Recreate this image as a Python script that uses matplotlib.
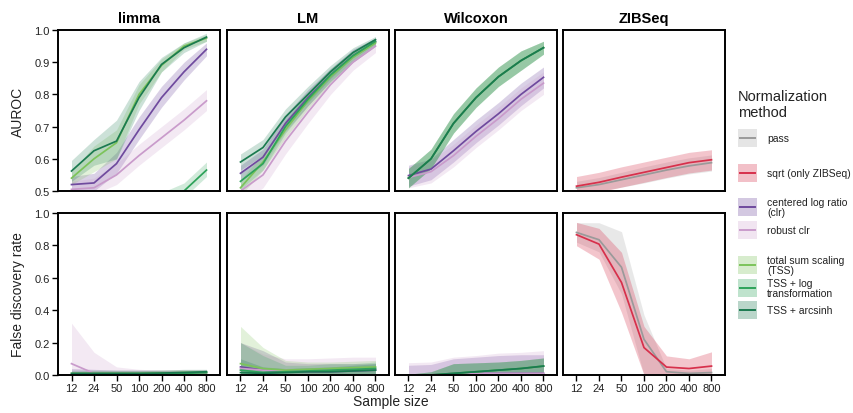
import matplotlib
matplotlib.use("Agg")
import matplotlib.pyplot as plt
from matplotlib.patches import Rectangle
from matplotlib.lines import Line2D
import numpy as np

plt.rcParams['font.family'] = ['Liberation Sans', 'DejaVu Sans']

sample_sizes = ["12", "24", "50", "100", "200", "400", "800"]
tests = ["limma", "LM", "Wilcoxon", "ZIBSeq"]
methods = ["pass", "sqrt (only ZIBSeq)", "centered log ratio\n(clr)", "robust clr",
           "total sum scaling\n(TSS)", "TSS + log\ntransformation", "TSS + arcsinh"]
colors = ["#9a9a9a", "#d7304b", "#6f4a9e", "#c99bcb", "#7cc35a", "#2ea35a", "#1b7a50"]
band_alpha = [0.22, 0.28, 0.25, 0.22, 0.22, 0.22, 0.22]
legend_alpha = [0.25, 0.3, 0.3, 0.25, 0.3, 0.3, 0.3]

# AUROC: method index -> (mean, lower, upper)
auroc_limma = {
    4: ([0.54, 0.60, 0.65, 0.80, 0.89, 0.95, 0.975],
        [0.52, 0.56, 0.60, 0.77, 0.87, 0.94, 0.965],
        [0.56, 0.64, 0.69, 0.83, 0.91, 0.96, 0.985]),
    5: ([0.40, 0.41, 0.42, 0.44, 0.47, 0.50, 0.565],
        [0.38, 0.39, 0.40, 0.42, 0.45, 0.48, 0.545],
        [0.42, 0.43, 0.44, 0.465, 0.495, 0.525, 0.59]),
    6: ([0.562, 0.625, 0.655, 0.79, 0.893, 0.945, 0.978],
        [0.53, 0.58, 0.60, 0.75, 0.87, 0.93, 0.965],
        [0.595, 0.66, 0.72, 0.84, 0.915, 0.96, 0.99]),
    2: ([0.52, 0.525, 0.585, 0.69, 0.79, 0.87, 0.94],
        [0.50, 0.50, 0.555, 0.66, 0.76, 0.845, 0.92],
        [0.545, 0.555, 0.62, 0.73, 0.825, 0.90, 0.96]),
    3: ([0.505, 0.51, 0.55, 0.61, 0.665, 0.72, 0.78],
        [0.48, 0.49, 0.52, 0.58, 0.635, 0.69, 0.75],
        [0.53, 0.54, 0.585, 0.645, 0.70, 0.755, 0.815]),
}
auroc_lm = {
    2: ([0.555, 0.605, 0.71, 0.79, 0.86, 0.92, 0.963],
        [0.53, 0.58, 0.685, 0.765, 0.84, 0.90, 0.95],
        [0.58, 0.63, 0.735, 0.815, 0.88, 0.94, 0.975]),
    3: ([0.50, 0.55, 0.655, 0.745, 0.83, 0.90, 0.95],
        [0.46, 0.51, 0.615, 0.71, 0.80, 0.875, 0.93],
        [0.53, 0.58, 0.685, 0.775, 0.855, 0.92, 0.965]),
    4: ([0.51, 0.59, 0.69, 0.78, 0.855, 0.915, 0.96],
        [0.485, 0.565, 0.665, 0.755, 0.835, 0.90, 0.95],
        [0.535, 0.615, 0.715, 0.805, 0.875, 0.93, 0.97]),
    5: ([0.53, 0.585, 0.70, 0.785, 0.86, 0.92, 0.965],
        [0.505, 0.565, 0.68, 0.765, 0.84, 0.905, 0.955],
        [0.555, 0.605, 0.72, 0.805, 0.88, 0.935, 0.975]),
    6: ([0.59, 0.635, 0.73, 0.80, 0.87, 0.93, 0.97],
        [0.565, 0.61, 0.705, 0.775, 0.85, 0.915, 0.96],
        [0.615, 0.66, 0.755, 0.825, 0.89, 0.945, 0.98]),
}
wil_green = ([0.54, 0.60, 0.71, 0.79, 0.855, 0.905, 0.945],
             [0.51, 0.57, 0.68, 0.76, 0.825, 0.875, 0.925],
             [0.57, 0.63, 0.74, 0.82, 0.885, 0.935, 0.965])
auroc_wilcoxon = {
    2: ([0.548, 0.568, 0.625, 0.685, 0.74, 0.80, 0.853],
        [0.515, 0.535, 0.59, 0.65, 0.705, 0.765, 0.82],
        [0.58, 0.60, 0.66, 0.72, 0.775, 0.835, 0.885]),
    3: ([0.542, 0.56, 0.61, 0.67, 0.725, 0.785, 0.835],
        [0.51, 0.525, 0.575, 0.635, 0.69, 0.75, 0.80],
        [0.575, 0.595, 0.645, 0.705, 0.76, 0.82, 0.87]),
    4: wil_green, 5: wil_green, 6: wil_green,
}
auroc_zibseq = {
    0: ([0.51, 0.52, 0.535, 0.55, 0.565, 0.578, 0.588],
        [0.49, 0.50, 0.512, 0.525, 0.54, 0.553, 0.562],
        [0.53, 0.542, 0.558, 0.575, 0.59, 0.603, 0.612]),
    1: ([0.515, 0.527, 0.543, 0.558, 0.573, 0.588, 0.597],
        [0.485, 0.497, 0.512, 0.527, 0.542, 0.556, 0.565],
        [0.545, 0.558, 0.575, 0.59, 0.605, 0.62, 0.628]),
}

# False discovery rate
fdr_limma = {
    2: ([0.005, 0.005, 0.005, 0.005, 0.005, 0.005, 0.005],
        [0, 0, 0, 0, 0, 0, 0],
        [0.04, 0.035, 0.03, 0.03, 0.03, 0.03, 0.03]),
    3: ([0.07, 0.01, 0.005, 0.005, 0.005, 0.005, 0.005],
        [0, 0, 0, 0, 0, 0, 0],
        [0.32, 0.14, 0.05, 0.035, 0.03, 0.03, 0.03]),
    4: ([0.01, 0.01, 0.01, 0.01, 0.012, 0.015, 0.015],
        [0, 0, 0, 0, 0, 0, 0],
        [0.02, 0.025, 0.025, 0.025, 0.03, 0.03, 0.03]),
    5: ([0.0, 0.0, 0.0, 0.002, 0.005, 0.01, 0.015],
        [0, 0, 0, 0, 0, 0, 0],
        [0.01, 0.01, 0.01, 0.015, 0.02, 0.025, 0.03]),
    6: ([0.01, 0.01, 0.01, 0.01, 0.012, 0.015, 0.02],
        [0, 0, 0, 0, 0, 0, 0],
        [0.03, 0.03, 0.03, 0.03, 0.03, 0.035, 0.035]),
}
fdr_lm = {
    2: ([0.05, 0.03, 0.02, 0.02, 0.02, 0.025, 0.03],
        [0, 0, 0, 0, 0, 0, 0],
        [0.2, 0.15, 0.08, 0.07, 0.07, 0.07, 0.07]),
    3: ([0.04, 0.03, 0.03, 0.03, 0.035, 0.04, 0.04],
        [0, 0, 0, 0, 0, 0, 0],
        [0.2, 0.13, 0.10, 0.10, 0.105, 0.11, 0.11]),
    4: ([0.07, 0.04, 0.03, 0.035, 0.04, 0.045, 0.05],
        [0, 0, 0, 0, 0, 0, 0],
        [0.30, 0.17, 0.09, 0.08, 0.08, 0.085, 0.09]),
    5: ([0.03, 0.015, 0.02, 0.025, 0.03, 0.035, 0.04],
        [0, 0, 0, 0, 0, 0, 0],
        [0.2, 0.12, 0.06, 0.06, 0.07, 0.07, 0.08]),
    6: ([0.015, 0.01, 0.015, 0.02, 0.02, 0.025, 0.03],
        [0, 0, 0, 0, 0, 0, 0],
        [0.10, 0.05, 0.04, 0.045, 0.05, 0.06, 0.07]),
}
wil_fdr_green = ([0.0, 0.0, 0.01, 0.02, 0.03, 0.04, 0.055],
                 [0, 0, 0, 0, 0, 0, 0],
                 [0.005, 0.02, 0.07, 0.075, 0.08, 0.09, 0.105])
fdr_wilcoxon = {
    2: ([0.0, 0.0, 0.01, 0.01, 0.01, 0.01, 0.01],
        [0, 0, 0, 0, 0, 0, 0],
        [0.06, 0.065, 0.10, 0.11, 0.12, 0.125, 0.125]),
    3: ([0.0, 0.0, 0.01, 0.01, 0.01, 0.01, 0.01],
        [0, 0, 0, 0, 0, 0, 0],
        [0.076, 0.08, 0.11, 0.12, 0.135, 0.14, 0.15]),
    4: wil_fdr_green, 5: wil_fdr_green, 6: wil_fdr_green,
}
fdr_zibseq = {
    0: ([0.88, 0.835, 0.665, 0.22, 0.02, 0.01, 0.015],
        [0.82, 0.76, 0.50, 0.0, 0.0, 0.0, 0.0],
        [0.94, 0.94, 0.885, 0.37, 0.04, 0.03, 0.04]),
    1: ([0.866, 0.808, 0.571, 0.169, 0.049, 0.04, 0.055],
        [0.798, 0.715, 0.386, 0.0, 0.0, 0.0, 0.0],
        [0.942, 0.905, 0.757, 0.30, 0.118, 0.10, 0.143]),
}

auroc_data = [auroc_limma, auroc_lm, auroc_wilcoxon, auroc_zibseq]
fdr_data = [fdr_limma, fdr_lm, fdr_wilcoxon, fdr_zibseq]

W, H = 854, 414
fig = plt.figure(figsize=(W / 100, H / 100), dpi=100)

col_left = [58, 227, 395, 563]
pw = 162
rows = [(31, 192), (214, 376)]

x = np.arange(len(sample_sizes))
tick_color = "#222222"

def draw(ax, data):
    for mi in sorted(data.keys()):
        m, lo, hi = data[mi]
        ax.fill_between(x, lo, hi, color=colors[mi], alpha=band_alpha[mi], lw=0)
        ax.plot(x, m, color=colors[mi], lw=1.25)

for c in range(4):
    for r in range(2):
        top, bot = rows[r]
        ax = fig.add_axes([col_left[c] / W, 1 - bot / H, pw / W, (bot - top) / H])
        draw(ax, auroc_data[c] if r == 0 else fdr_data[c])
        ax.set_xlim(-0.6, 6.6)
        if r == 0:
            ax.set_ylim(0.5, 1.0)
            ax.set_yticks([0.5, 0.6, 0.7, 0.8, 0.9, 1.0])
            ax.set_yticklabels(["0.5", "0.6", "0.7", "0.8", "0.9", "1.0"])
            ax.set_xticks([])
            ax.set_title(tests[c], fontsize=10.5, fontweight="bold", pad=6)
        else:
            ax.set_ylim(0, 1.0)
            ax.set_yticks([0, 0.2, 0.4, 0.6, 0.8, 1.0])
            ax.set_yticklabels(["0.0", "0.2", "0.4", "0.6", "0.8", "1.0"])
            ax.set_xticks(x)
            ax.set_xticklabels(sample_sizes)
        for s in ax.spines.values():
            s.set_linewidth(1.4)
            s.set_color("black")
        ax.tick_params(axis="both", direction="out", length=4, width=1.0,
                       labelsize=8, colors="black", labelcolor=tick_color, pad=2)
        if c != 0:
            ax.set_yticks([])
        else:
            ax.set_ylabel("AUROC" if r == 0 else "False discovery rate",
                          fontsize=10, color=tick_color, labelpad=7)

fig.text(391 / W, 1 - 402 / H, "Sample size", ha="center", va="center",
         fontsize=10, color=tick_color)

# Legend (manual)
fig.text(738 / W, 1 - 105 / H, "Normalization\nmethod", ha="left", va="center",
         fontsize=10.5, color=tick_color, linespacing=1.1)
entry_y = [139, 174, 208, 231, 266, 289, 311]
for i, yc in enumerate(entry_y):
    x0, x1 = 738, 757
    ph = 18
    fig.add_artist(Rectangle((x0 / W, 1 - (yc + ph / 2) / H), (x1 - x0) / W, ph / H,
                             transform=fig.transFigure, facecolor=colors[i],
                             alpha=legend_alpha[i], edgecolor="none"))
    fig.add_artist(Line2D([(x0 + 2) / W, (x1 - 2) / W], [1 - yc / H, 1 - yc / H],
                          transform=fig.transFigure, color=colors[i], lw=1.4))
    fig.text(767 / W, 1 - yc / H, methods[i], ha="left", va="center",
             fontsize=7.5, color=tick_color, linespacing=0.95)

fig.savefig("out.png", dpi=100)
